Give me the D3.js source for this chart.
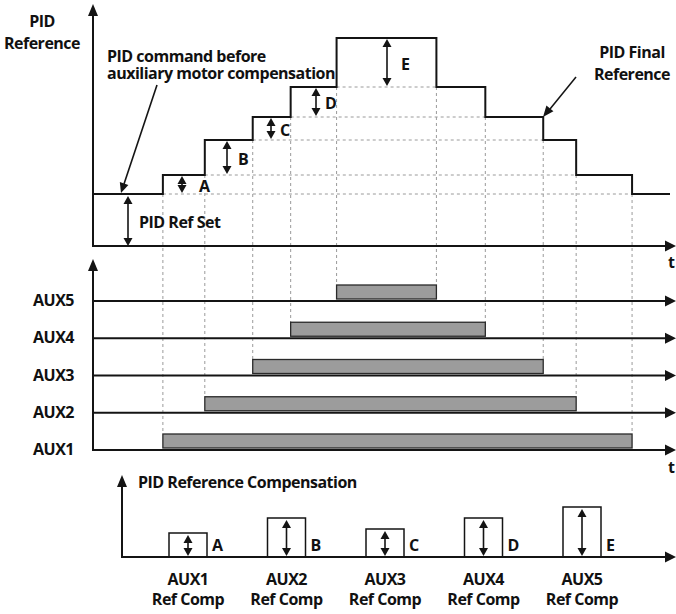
<!DOCTYPE html>
<html>
<head>
<meta charset="utf-8">
<script src="https://cdn.jsdelivr.net/npm/d3@7"></script>
<style>
  body { margin: 0; background: #fff; }
  text { font-family: "Open Sans", sans-serif; font-weight: 700; fill: #111; letter-spacing: -0.5px; }
</style>
</head>
<body>
<script>
// chart data
var auxNames = ['AUX1', 'AUX2', 'AUX3', 'AUX4', 'AUX5'];
var compLabels = ['A', 'B', 'C', 'D', 'E'];
var onTimes = [7, 11.2, 16, 19.8, 24.4];      // aux motor switched on
var offTimes = [54, 48.4, 45.1, 39.3, 34.4];  // aux motor switched off
var endTime = 57.8;
var refSet = 52;                               // PID ref set
var compValues = [19, 35, 23, 30, 49];         // step size each aux adds
var compBars = [24, 39, 28, 39, 50];           // bottom panel box heights

var width = 676, height = 614;
var ink = '#141414';

var svg = d3.select('body').append('svg')
  .attr('width', width)
  .attr('height', height);

// scales
var x = d3.scaleLinear().domain([0, 58]).range([93, 672]);
var yTop = d3.scaleLinear().domain([0, 241]).range([246, 5]);
var yAux = d3.scalePoint().domain(auxNames.slice().reverse()).range([301, 450]);
var xComp = d3.scalePoint().domain(auxNames).range([188, 582]);
var yComp = d3.scaleLinear().domain([0, 82]).range([557, 475]);

// cumulative levels: base, base+A, ...
var levels = [refSet];
compValues.forEach(function(c, i) { levels.push(levels[i] + c); });

function tri(x0, y0, dir, w, h, rot) {
  // tip at (x0, y0)
  var p;
  if (dir == 'up') p = [[x0, y0], [x0 - w / 2, y0 + h], [x0 + w / 2, y0 + h]];
  if (dir == 'down') p = [[x0, y0], [x0 - w / 2, y0 - h], [x0 + w / 2, y0 - h]];
  if (dir == 'right') p = [[x0, y0], [x0 - h, y0 - w / 2], [x0 - h, y0 + w / 2]];
  svg.append('path').attr('d', 'M' + p.join('L') + 'Z').attr('fill', ink)
    .attr('transform', rot ? 'rotate(' + rot + ',' + x0 + ',' + y0 + ')' : null);
}

function line(x1, y1, x2, y2, sw, dash, col) {
  svg.append('line')
    .attr('x1', x1).attr('y1', y1).attr('x2', x2).attr('y2', y2)
    .attr('stroke', col || ink)
    .attr('stroke-width', sw || 2)
    .attr('stroke-dasharray', dash || null);
}

function dblArrow(xx, y1, y2) {
  line(xx, y1 + 6, xx, y2 - 6, 1.6);
  tri(xx, y1, 'up', 9, 8);
  tri(xx, y2, 'down', 9, 8);
}

// one text element, one tspan per line
function label(lines, xx, yy, anchor, lh) {
  if (typeof lines == 'string') lines = [lines];
  var t = svg.append('text')
    .attr('x', xx).attr('y', yy)
    .attr('text-anchor', anchor || 'start')
    .style('font-size', '16px');
  lines.forEach(function(s, i) {
    t.append('tspan').attr('x', xx).attr('dy', i ? (lh || 20) : 0).text(s);
  });
}

function barTop(i) { return yAux(auxNames[i]) - 16; }

// ---- dashed guide lines ----
var grid = svg.append('g');
levels.slice(0, 5).forEach(function(l, i) {
  grid.append('line')
    .attr('x1', x(onTimes[i])).attr('x2', x(offTimes[i]))
    .attr('y1', yTop(l)).attr('y2', yTop(l))
    .attr('stroke', '#9a9a9a').attr('stroke-dasharray', '3,3');
});
auxNames.forEach(function(a, i) {
  [onTimes[i], offTimes[i]].forEach(function(t) {
    grid.append('line')
      .attr('x1', x(t)).attr('x2', x(t))
      .attr('y1', yTop(levels[i])).attr('y2', barTop(i))
      .attr('stroke', '#9a9a9a').attr('stroke-dasharray', '3,3');
  });
});

// ---- top panel: PID reference ----
var stepData = [{t: 0, v: levels[0]}];
onTimes.forEach(function(t, i) { stepData.push({t: t, v: levels[i + 1]}); });
for (var i = 4; i >= 0; i--) stepData.push({t: offTimes[i], v: levels[i]});
stepData.push({t: endTime, v: levels[0]});

svg.append('path')
  .datum(stepData)
  .attr('fill', 'none')
  .attr('stroke', ink)
  .attr('stroke-width', 2)
  .attr('d', d3.line().x(d => x(d.t)).y(d => yTop(d.v)).curve(d3.curveStepAfter));

line(93, 247, 93, 14);
tri(93, 4, 'up', 10, 12);
line(92, 246, 666, 246);
tri(676, 246, 'right', 11, 11);
label('t', 668, 268);

label(['PID', 'Reference'], 42, 27, 'middle', 22);
label(['PID command before', 'auxiliary motor compensation'], 107, 62, 'start', 17);
line(157, 85, 124, 184, 1.6);
tri(121, 193, 'down', 9, 10, 18);

label(['PID Final', 'Reference'], 632, 58, 'middle', 22);
line(576, 77, 550, 109, 1.6);
tri(543, 117, 'down', 9, 11, 39);

dblArrow(128, yTop(levels[0]) + 2, 246);
label('PID Ref Set', 139, 228);

var arrowX = [182, 227, 271, 316, 387];
var letterX = [199, 238, 280, 325, 401];
compLabels.forEach(function(c, i) {
  var y1 = yTop(levels[i + 1]), y2 = yTop(levels[i]);
  dblArrow(arrowX[i], y1 + 1, y2 - 1);
  label(c, letterX[i], (y1 + y2) / 2 + 7);
});

// ---- middle panel: aux motors ----
line(93, 451, 93, 270);
tri(93, 259, 'up', 10, 12);
auxNames.forEach(function(a, i) {
  var yy = yAux(a);
  line(93, yy, 666, yy);
  tri(676, yy, 'right', 11, 11);
  label(a, 33, yy + 5);
  svg.append('rect')
    .attr('x', x(onTimes[i]))
    .attr('y', barTop(i))
    .attr('width', x(offTimes[i]) - x(onTimes[i]))
    .attr('height', 14)
    .attr('fill', '#9c9c9c')
    .attr('stroke', '#2a2a2a')
    .attr('stroke-width', 1.3);
});
label('t', 668, 473);

// ---- bottom panel: compensation ----
line(122, 558, 122, 486);
tri(122, 475, 'up', 10, 12);
line(121, 557, 666, 557);
tri(676, 557, 'right', 11, 11);
label('PID Reference Compensation', 138, 488);

auxNames.forEach(function(a, i) {
  var cx = xComp(a), top = yComp(compBars[i]);
  svg.append('rect')
    .attr('x', cx - 19).attr('y', top)
    .attr('width', 38).attr('height', 557 - top)
    .attr('fill', 'none').attr('stroke', ink).attr('stroke-width', 1.5);
  dblArrow(cx, top + 2, 556);
  label(compLabels[i], cx + 24, 551);
  label([a, 'Ref Comp'], cx, 585, 'middle', 20);
});
</script>
</body>
</html>
